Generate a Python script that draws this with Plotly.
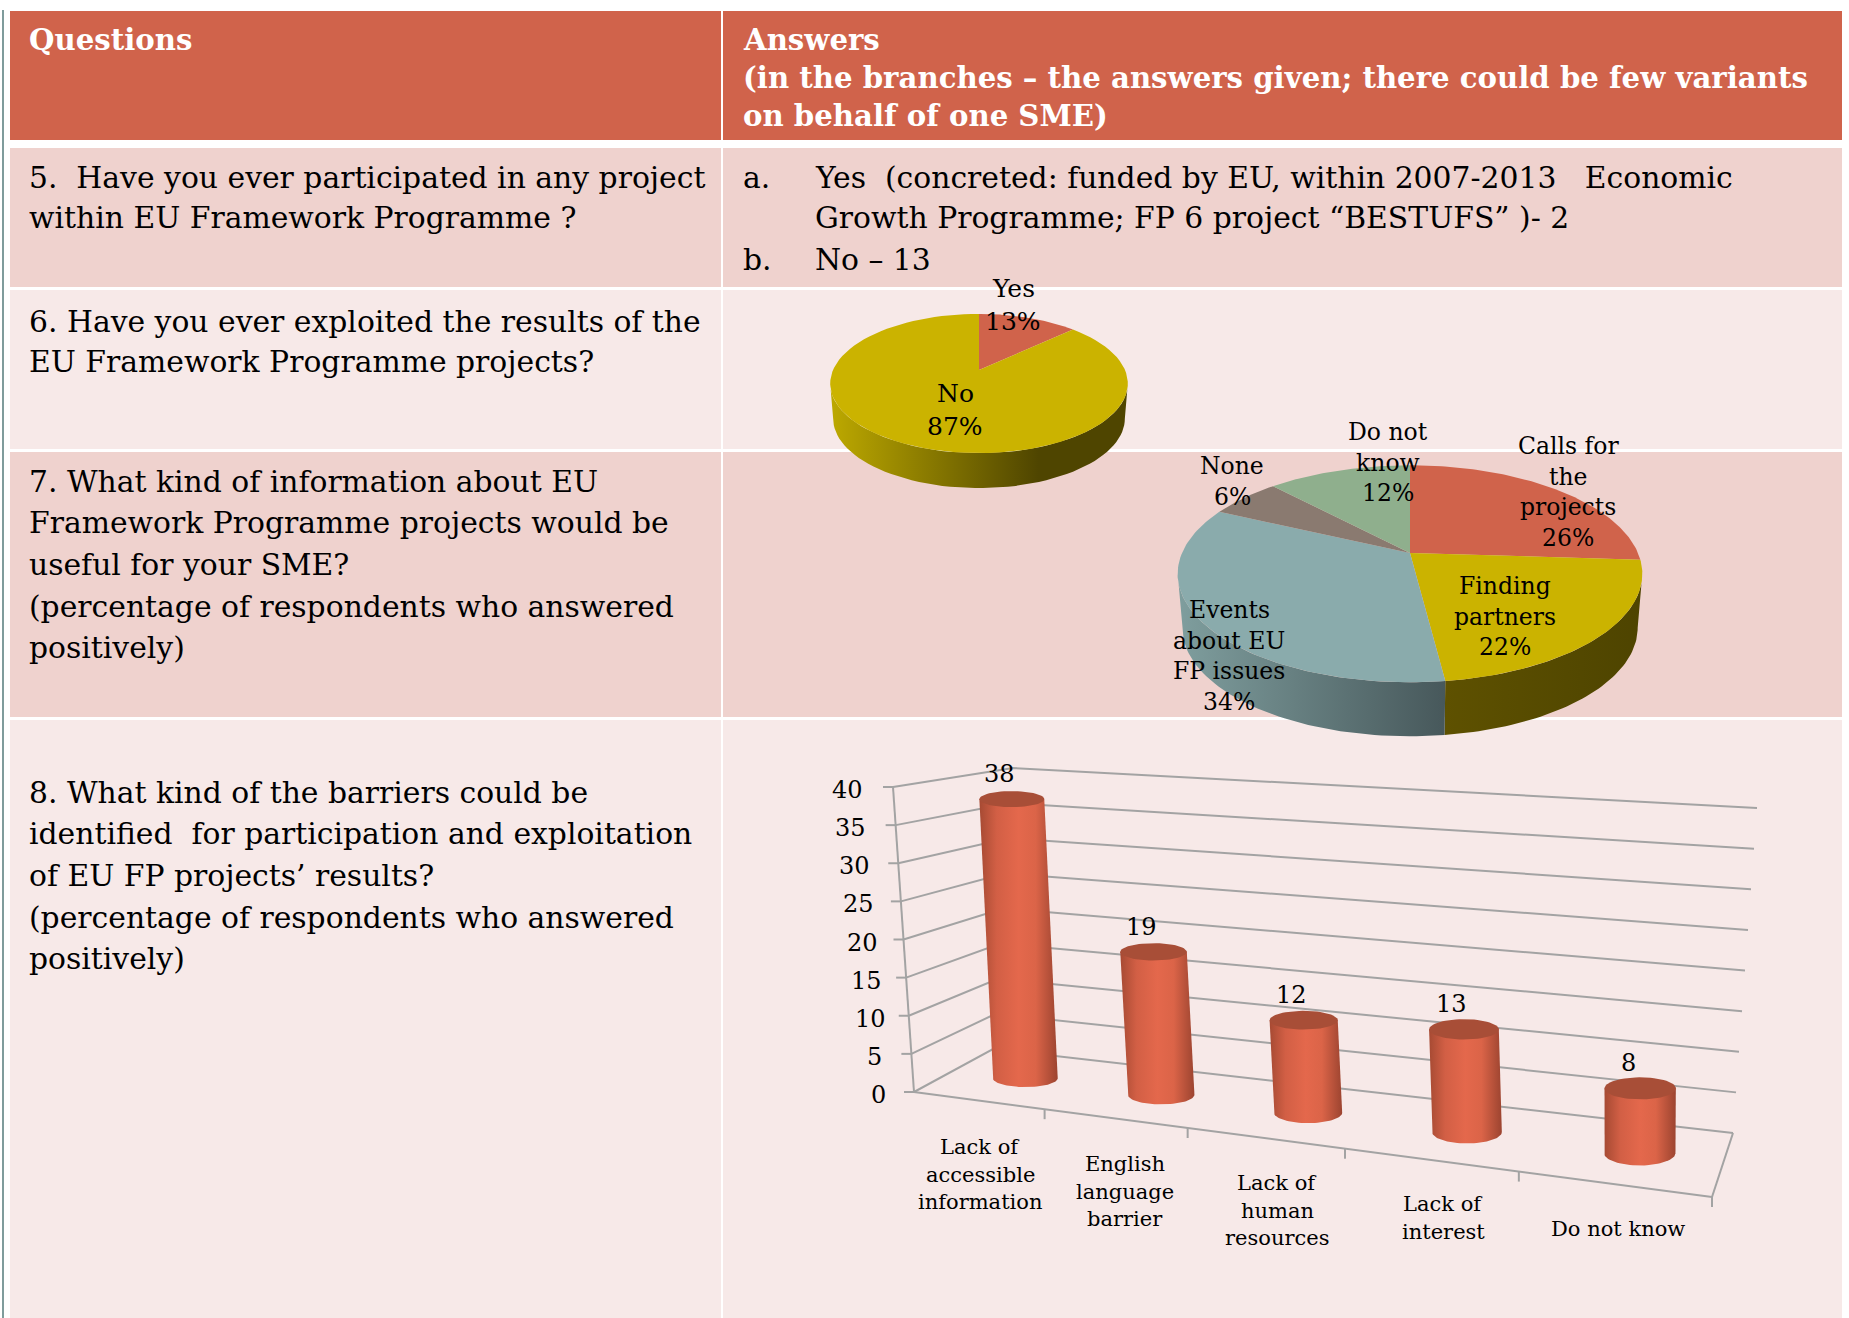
"""Survey results table for SMEs: question rows with two tilted pies and a cylinder bar chart."""

import numpy as np
import plotly.graph_objects as go

# ---- data ----
pie1_labels = [["Yes"], ["No"]]
pie1_values = [13, 87]

pie2_labels = [["Calls for", "the", "projects"], ["Finding", "partners"],
               ["Events", "about EU", "FP issues"], ["None"], ["Do not", "know"]]
pie2_values = [26, 22, 34, 6, 12]

bar_labels = [["Lack of", "accessible", "information"], ["English", "language", "barrier"],
              ["Lack of", "human", "resources"], ["Lack of", "interest"], ["Do not know"]]
bar_values = [38, 19, 12, 13, 8]
bar_ticks = [0, 5, 10, 15, 20, 25, 30, 35, 40]

header_left = "Questions"
header_right = ["Answers",
                "(in the branches – the answers given; there could be few variants",
                "on behalf of one SME)"]
q5_lines = ["5.\u00a0\u00a0Have you ever participated in any project",
            "within EU Framework Programme ?"]
q5_answer_a = ["Yes\u00a0\u00a0(concreted: funded by EU, within 2007-2013\u00a0\u00a0\u00a0Economic",
               "Growth Programme; FP 6 project “BESTUFS” )- 2"]
q5_answer_b = "No – 13"
q6_lines = ["6. Have you ever exploited the results of the",
            "EU Framework Programme projects?"]
q7_lines = ["7. What kind of information about EU",
            "Framework Programme projects would be",
            "useful for your SME?",
            "(percentage of respondents who answered",
            "positively)"]
q8_lines = ["8. What kind of the barriers could be",
            "identified\u00a0\u00a0for participation and exploitation",
            "of EU FP projects’ results?",
            "(percentage of respondents who answered",
            "positively)"]

RED = "#D0634B"
ROW_DARK = "#EFD2CE"
ROW_LIGHT = "#F7E9E8"
GRID = "#A3A3A3"
SERIF = "DejaVu Serif"

fig = go.Figure()
annotations = []


def add_text(x, y, text, size=29.8, anchor="left", color="#000000", bold=False):
    """ Text line centred vertically on y, in page pixels"""
    if bold:
        text = "<b>" + text + "</b>"
    annotations.append(dict(x=x, y=y, xref="x", yref="y", text=text, showarrow=False,
                            xanchor=anchor, yanchor="middle",
                            font=dict(family=SERIF, size=size, color=color)))


def add_poly(xs, ys, color=None, gradient=None):
    """ Filled polygon, flat or with a left to right gradient"""
    trace = go.Scatter(x=xs, y=ys, mode="lines", line=dict(width=0), fill="toself",
                       hoverinfo="skip", showlegend=False)
    if gradient:
        trace.fillgradient = dict(type="horizontal", colorscale=gradient)
    else:
        trace.fillcolor = color
    fig.add_trace(trace)


# ---- table background ----
shapes = []
columns = [(10, 721), (723, 1842)]
rows = [(11, 140, RED), (148, 287, ROW_DARK), (290, 449, ROW_LIGHT),
        (452, 717, ROW_DARK), (720, 1318, ROW_LIGHT)]
for y0, y1, color in rows:
    for x0, x1 in columns:
        shapes.append(dict(type="rect", x0=x0, x1=x1, y0=y0, y1=y1, layer="below",
                           fillcolor=color, line=dict(width=0)))
shapes.append(dict(type="rect", x0=2, x1=4, y0=10, y1=1318, layer="below",
                   fillcolor="#7F9C9C", line=dict(width=0)))


# ---- pies ----
def pie_xy(theta, cx, cy, rx, ry, k, drop=0.0, shrink=1.0):
    """ Tilted disc point: theta clockwise from 12 o'clock, k is the front to back perspective"""
    d = 1 + k * np.cos(theta)
    return cx + shrink * rx * np.sin(theta) / d, cy - ry * np.cos(theta) / d + drop


def draw_pie(values, colors, side_colors, cx, cy, rx, ry, k, depth):
    edges = np.cumsum([0] + values) / sum(values) * 2 * np.pi
    vis0 = np.arccos(-k)
    vis1 = 2 * np.pi - vis0
    for i in range(len(values)):
        t0, t1 = max(edges[i], vis0), min(edges[i + 1], vis1)
        if t1 > t0 and side_colors[i]:
            t = np.linspace(t0, t1, 60)
            top_x, top_y = pie_xy(t, cx, cy, rx, ry, k)
            low_x, low_y = pie_xy(t, cx, cy, rx, ry, k, depth, 0.98)
            add_poly(np.r_[top_x, low_x[::-1]], np.r_[top_y, low_y[::-1]],
                     gradient=side_colors[i])
    for i in range(len(values)):
        t = np.linspace(edges[i], edges[i + 1], 90)
        x, y = pie_xy(t, cx, cy, rx, ry, k)
        add_poly(np.r_[cx, x, cx], np.r_[cy, y, cy], color=colors[i])


draw_pie(pie1_values, [RED, "#CBB300"],
         [None, [[0, "#BDA900"], [0.7, "#4F4500"], [1, "#4F4500"]]],
         979, 370, 146, 67, 0.194, 35)
draw_pie(pie2_values, [RED, "#CBB300", "#8AABAC", "#8A7A70", "#8FAF8D"],
         [None, [[0, "#5E5100"], [1, "#4E4400"]],
          [[0, "#7F9E9E"], [1, "#47585B"]], None, None],
         1410, 553, 228, 104.5, 0.192, 54)

pie1_spots = [(1013, 288), (955, 393)]
for lines, value, (x, y) in zip(pie1_labels, pie1_values, pie1_spots):
    for j, line in enumerate(lines + [f"{value}%"]):
        add_text(x, y + j * 33, line, 25, "center")

pie2_spots = [(1568, 446), (1505, 586), (1229, 610), (1232, 466), (1388, 432)]
for lines, value, (x, y) in zip(pie2_labels, pie2_values, pie2_spots):
    for j, line in enumerate(lines + [f"{value}%"]):
        add_text(x, y + j * 30.5, line, 23.5, "center")

# ---- bar chart in perspective ----
FRONT_L = (914, 1092)
FRONT_R = (1712, 1197)
BACK_R = (1733, 1133)
BACK_L = (993, 1049)
FRONT_L_TOP = (893, 787)
FRONT_R_TOP = (1716, 828)
BACK_R_TOP = (1757, 808)
BACK_L_TOP = (1013, 768)
# the cylinders stand straighter than the side wall, so they get their own roof
BAR_ROOF = [(902, 802), (1721, 869), (1742, 805), (981, 759)]
AXIS_MAX = bar_ticks[-1]


def homography(corners):
    """ Maps the unit square (u along the categories, w into the depth) onto four corners"""
    src = [(0, 0), (1, 0), (1, 1), (0, 1)]
    a, b = [], []
    for (u, w), (x, y) in zip(src, corners):
        a.append([u, w, 1, 0, 0, 0, -u * x, -w * x])
        a.append([0, 0, 0, u, w, 1, -u * y, -w * y])
        b += [x, y]
    return np.append(np.linalg.solve(np.array(a, float), np.array(b, float)), 1).reshape(3, 3)


floor_h = homography([FRONT_L, FRONT_R, BACK_R, BACK_L])
roof_h = homography([FRONT_L_TOP, FRONT_R_TOP, BACK_R_TOP, BACK_L_TOP])
bar_roof_h = homography(BAR_ROOF)


def project(u, w, value, roof=roof_h):
    p0 = floor_h @ np.array([u, w, 1.0])
    p1 = roof @ np.array([u, w, 1.0])
    f = value / AXIS_MAX
    return (1 - f) * p0[:2] / p0[2] + f * p1[:2] / p1[2]


grid_x, grid_y = [], []
for v in bar_ticks:
    points = [project(0, 0, v), project(0, 1, v), project(1, 1, v)]
    for px, py in points:
        grid_x.append(px)
        grid_y.append(py)
    grid_x.append(None)
    grid_y.append(None)
    tick = project(0, 0, v)
    grid_x += [tick[0] - 10, tick[0], None]
    grid_y += [tick[1], tick[1], None]
    add_text(tick[0] - 36 - 10 * v / AXIS_MAX, tick[1] + 3, str(v), 24, "center")

grid_x += [project(0, 0, 0)[0], project(0, 0, AXIS_MAX)[0], None]
grid_y += [project(0, 0, 0)[1], project(0, 0, AXIS_MAX)[1], None]
for a, b in [((0, 0), (1, 0)), ((1, 0), (1, 1))]:
    p, q = project(a[0], a[1], 0), project(b[0], b[1], 0)
    grid_x += [p[0], q[0], None]
    grid_y += [p[1], q[1], None]
for i in range(1, len(bar_values) + 1):
    p = project(i / len(bar_values), 0, 0)
    grid_x += [p[0], p[0], None]
    grid_y += [p[1], p[1] + 10, None]
fig.add_trace(go.Scatter(x=grid_x, y=grid_y, mode="lines", line=dict(color=GRID, width=2),
                         hoverinfo="skip", showlegend=False))

cyl_gradient = [[0, "#A64A33"], [0.22, "#D25F45"], [0.5, "#E4684C"], [0.72, "#DB6448"],
                [1, "#9C4430"]]
for i, v in enumerate(bar_values):
    u = (i + 0.55) / len(bar_values)
    u += 0.008 * np.sin(np.pi * u)  # the floor squeezes the middle bars a bit too far left
    base = project(u, 0.5, 0, bar_roof_h)
    top = project(u, 0.5, v, bar_roof_h)
    rx = 32 + 4 * u
    ry = (project(u, 0.3, 0)[1] - project(u, 0.7, 0)[1]) / 2
    t = np.linspace(0, np.pi, 40)
    add_poly(np.r_[top[0] - rx, base[0] - rx * np.cos(t), top[0] + rx],
             np.r_[top[1], base[1] + ry * np.sin(t), top[1]], gradient=cyl_gradient)
    t = np.linspace(0, 2 * np.pi, 60)
    add_poly(top[0] + rx * np.cos(t), top[1] + 0.9 * ry * np.sin(t), color="#A84E37")
    add_text(top[0] - 12, top[1] - 25, str(v), 24, "center")

label_spots = [(980, 1147), (1125, 1164), (1277, 1183), (1443, 1204), (1618, 1229)]
for lines, (x, y) in zip(bar_labels, label_spots):
    for j, line in enumerate(lines):
        add_text(x, y + j * 27.5, line, 21, "center")

# ---- table text ----
add_text(27, 40, header_left, 29.2, color="white", bold=True)
for j, line in enumerate(header_right):
    add_text(741, 40 + j * 38, line, 29.2, color="white", bold=True)

for j, line in enumerate(q5_lines):
    add_text(27, 177 + j * 40, line)
add_text(741, 177, "a.")
for j, line in enumerate(q5_answer_a):
    add_text(813, 177 + j * 40, line)
add_text(741, 259, "b.")
add_text(813, 259, q5_answer_b)

for j, line in enumerate(q6_lines):
    add_text(27, 321 + j * 40, line)
for j, line in enumerate(q7_lines):
    add_text(27, 481 + j * 41.7, line)
for j, line in enumerate(q8_lines):
    add_text(27, 792 + j * 41.7, line)

fig.update_layout(width=1849, height=1318, margin=dict(l=0, r=0, t=0, b=0),
                  paper_bgcolor="white", plot_bgcolor="white", shapes=shapes,
                  annotations=annotations, showlegend=False)
fig.update_xaxes(range=[0, 1849], visible=False, fixedrange=True)
fig.update_yaxes(range=[1318, 0], visible=False, fixedrange=True)
fig.write_html("out.html", post_script="document.body.style.margin='0';",
               config={"displayModeBar": False})
